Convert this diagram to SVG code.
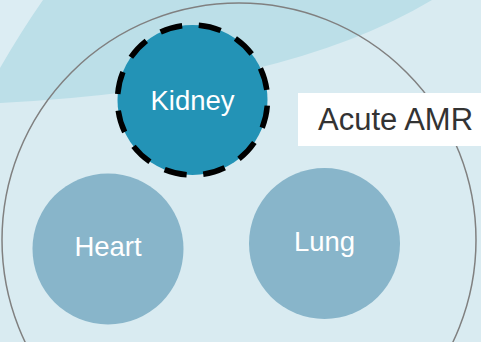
<svg xmlns="http://www.w3.org/2000/svg" width="481" height="342" viewBox="0 0 481 342">
<style>
.lbl{font-family:"Liberation Sans",Arial,Helvetica,sans-serif;font-size:27.5px;fill:#ffffff}
.organ{fill:#88b5ca}
</style>
<rect x="0" y="0" width="481" height="342" fill="#d9ebf1"/>
<path d="M0,0 L481,0 L432,0 Q284,88.5 0,103 Z" fill="#bcdfe8"/>
<path d="M0,0 L43,0 Q22,30 0,68 Z" fill="#dcedf3"/>
<circle cx="239" cy="240" r="237" fill="none" stroke="#808080" stroke-width="1.5"/>
<g id="kidney">
<circle cx="192.5" cy="100" r="75" fill="#2393b6" stroke="#000" stroke-width="5.5" stroke-dasharray="22.5 16.77" stroke-dashoffset="33.5"/>
<text class="lbl" x="192.5" y="110" text-anchor="middle">Kidney</text>
</g>
<g id="heart">
<circle class="organ" cx="108" cy="249" r="75.5"/>
<text class="lbl" x="108" y="256" text-anchor="middle">Heart</text>
</g>
<g id="lung">
<circle class="organ" cx="324.5" cy="243.5" r="75.5"/>
<text class="lbl" x="324.5" y="250.5" text-anchor="middle">Lung</text>
</g>
<g id="acute-amr">
<rect x="298" y="93" width="183" height="53" fill="#ffffff"/>
<text x="318" y="130" font-family="'Liberation Sans',Arial,Helvetica,sans-serif" font-size="31" fill="#333333">Acute AMR</text>
</g>
<g id="connectors"></g>
</svg>
